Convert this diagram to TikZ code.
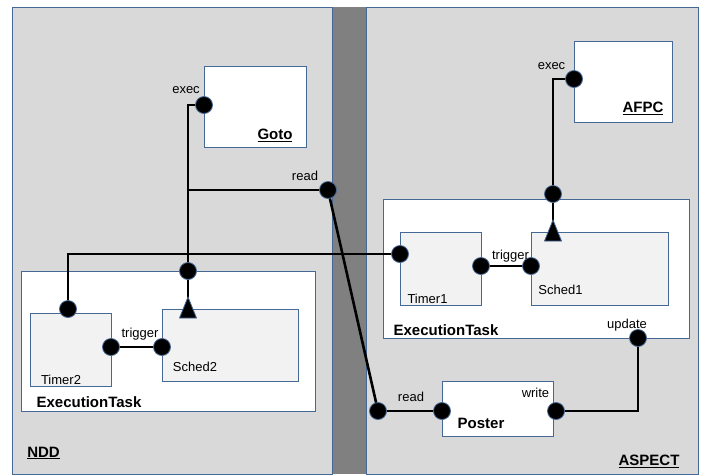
\documentclass[tikz,border=0pt]{standalone}
\usepackage{fontspec}
\setmainfont{Liberation Sans}
\definecolor{panelfill}{RGB}{217,217,217}
\definecolor{bandfill}{RGB}{128,128,128}
\definecolor{innerfill}{RGB}{242,242,242}
\definecolor{edgeblue}{RGB}{70,104,148}
\tikzset{
  panel/.style={draw=edgeblue, line width=1pt, fill=panelfill, anchor=north west, inner sep=0pt},
  band/.style={fill=bandfill, anchor=north west, inner sep=0pt, minimum width=34pt, minimum height=467pt},
  wbox/.style={draw=edgeblue, line width=1pt, fill=white, anchor=north west, inner sep=0pt},
  gbox/.style={draw=edgeblue, line width=1pt, fill=innerfill, anchor=north west, inner sep=0pt},
  port/.style={circle, fill=black, draw=edgeblue, line width=0.8pt, minimum size=17pt, inner sep=0pt},
  wire/.style={line width=2.6pt, black},
  tri/.style={fill=black, draw=edgeblue, line width=0.8pt, line join=miter},
  lbl/.style={inner sep=0pt, font=\fontsize{13}{15}\selectfont},
  blbl/.style={inner sep=0pt, font=\fontsize{15}{17}\selectfont\bfseries},
}
\begin{document}
\begin{tikzpicture}[x=1pt, y=-1pt]
\useasboundingbox (0,0) rectangle (704,475);
% panels
\node[band] (band) at (332,7) {};
\node[panel, minimum width=320pt, minimum height=467pt] (ndd) at (12,7) {};
\node[panel, minimum width=332pt, minimum height=467pt] (aspect) at (366,7) {};
% NDD side boxes
\node[wbox, minimum width=102pt, minimum height=81pt] (goto) at (204,66) {};
\node[wbox, minimum width=294pt, minimum height=140pt] (nexec) at (21,271) {};
\node[gbox, minimum width=81pt, minimum height=73pt] (timer2) at (30,313) {};
\node[gbox, minimum width=136pt, minimum height=72pt] (sched2) at (162,309) {};
% ASPECT side boxes
\node[wbox, minimum width=98pt, minimum height=81pt] (afpc) at (574,41) {};
\node[wbox, minimum width=306pt, minimum height=139pt] (aexec) at (383,199) {};
\node[gbox, minimum width=81pt, minimum height=73pt] (timer1) at (400,232) {};
\node[gbox, minimum width=137pt, minimum height=73pt] (sched1) at (531,232) {};
\node[wbox, minimum width=111pt, minimum height=55pt] (poster) at (442,381) {};
% triangle anchors
\coordinate (s2tri) at (188,309);
\coordinate (s1tri) at (553,232);
\coordinate (s2tip) at (188,298);
\coordinate (s1tip) at (553,221);
% port positions
\coordinate (gexecC) at (204,105);
\coordinate (readLC) at (328,190);
\coordinate (ntopC) at (188,271);
\coordinate (t2topC) at (68,309);
\coordinate (t2trigC) at (111,347);
\coordinate (s2trigC) at (162,347);
\coordinate (readRC) at (378,411);
\coordinate (preadC) at (442,411);
\coordinate (pwriteC) at (556,411);
\coordinate (aexecpC) at (574,79);
\coordinate (atopC) at (553,194);
\coordinate (t1portC) at (400,254);
\coordinate (t1trigC) at (481,266);
\coordinate (s1trigC) at (531,266);
\coordinate (updateC) at (638,338);
% wires
\draw[wire] (gexecC) -| (ntopC);
\draw[wire] (readLC) -- (readLC -| ntopC);
\draw[wire] (readLC) -- (readRC);
\draw[wire] (readRC) -- (preadC);
\draw[wire] (ntopC) -- (s2tip);
\draw[wire] (t2topC) |- (t1portC);
\draw[wire] (t2trigC) -- (s2trigC);
\draw[wire] (t1trigC) -- (s1trigC);
\draw[wire] (aexecpC) -| (atopC);
\draw[wire] (atopC) -- (s1tip);
\draw[wire] (updateC) |- (pwriteC);
% triangles
\filldraw[tri] (s2tri) ++(0,-12) -- ++(8.5,21) -- ++(-17,0) -- cycle;
\filldraw[tri] (s1tri) ++(0,-12) -- ++(8.5,21) -- ++(-17,0) -- cycle;
% ports
\node[port] (gexec) at (gexecC) {};
\node[port] (readL) at (readLC) {};
\node[port] (ntop) at (ntopC) {};
\node[port] (t2top) at (t2topC) {};
\node[port] (t2trig) at (t2trigC) {};
\node[port] (s2trig) at (s2trigC) {};
\node[port] (readR) at (readRC) {};
\node[port] (pread) at (preadC) {};
\node[port] (pwrite) at (pwriteC) {};
\node[port] (aexecp) at (aexecpC) {};
\node[port] (atop) at (atopC) {};
\node[port] (t1port) at (t1portC) {};
\node[port] (t1trig) at (t1trigC) {};
\node[port] (s1trig) at (s1trigC) {};
\node[port] (update) at (updateC) {};
% labels NDD
\node[lbl] (lexec1) at (186,90) {exec};
\node[blbl] (lgoto) at (275,135) {\underline{Goto}};
\node[lbl] (lread1) at (305,176) {read};
\node[lbl] (ltrig2) at (140,334) {trigger};
\node[lbl] (lsched2) at (195,367) {Sched2};
\node[lbl] (ltimer2) at (61,380) {Timer2};
\node[blbl] (lnexec) at (89,402) {ExecutionTask};
\node[blbl] (lndd) at (43.5,453) {\underline{NDD}};
% labels ASPECT
\node[lbl] (lexec2) at (551.5,66) {exec};
\node[blbl] (lafpc) at (643,108) {\underline{AFPC}};
\node[lbl] (ltrig1) at (510.5,256) {trigger};
\node[lbl] (lsched1) at (560.5,290) {Sched1};
\node[lbl] (ltimer1) at (427.5,299) {Timer1};
\node[blbl] (laexec) at (446,330) {ExecutionTask};
\node[lbl] (lupdate) at (627,325) {update};
\node[lbl] (lread2) at (411,397) {read};
\node[lbl] (lwrite) at (535.5,393) {write};
\node[blbl] (lposter) at (481,423) {Poster};
\node[blbl] (laspect) at (649,461) {\underline{ASPECT}};
\end{tikzpicture}
\end{document}
